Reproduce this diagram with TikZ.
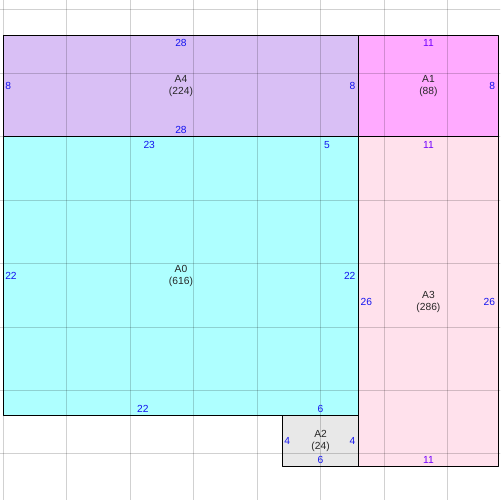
\documentclass[tikz,border=0pt]{standalone}
\usepackage{fontspec}
\setmainfont{Liberation Sans}
\usepackage{tikz}
\definecolor{fillfour}{RGB}{217,191,245}
\definecolor{fillone}{RGB}{255,170,255}
\definecolor{fillzero}{RGB}{174,255,255}
\definecolor{fillthree}{RGB}{255,225,236}
\definecolor{filltwo}{RGB}{232,232,232}
\definecolor{lenblue}{RGB}{20,20,240}
\definecolor{lenviolet}{RGB}{115,0,255}
\tikzset{
  room/.style={draw=black,line width=1.1pt},
  gridline/.style={black,opacity=0.18,line width=0.9pt},
  roomname/.style={align=center,inner sep=0pt,text=black!85,font=\fontsize{11.5}{13.4}\selectfont},
  lenlabel/.style={text=lenblue,inner sep=0pt,font=\fontsize{11.5}{13.4}\selectfont},
  lbltop/.style={lenlabel,anchor=north,inner ysep=4.8pt},
  lblbot/.style={lenlabel,anchor=south,inner ysep=3pt},
  lblleft/.style={lenlabel,anchor=west,inner xsep=2pt},
  lblright/.style={lenlabel,anchor=east,inner xsep=3.4pt}
}
\begin{document}
\begin{tikzpicture}[line cap=round,line join=round,x=0.5cm,y=-0.5cm]
\useasboundingbox (-0.26,-2.76) rectangle (39.14,36.64);
% room fills
\fill [fillfour] (0,0) rectangle (28,8);
\fill [fillone] (28,0) rectangle (39,8);
\fill [fillzero] (0,8) rectangle (28,30);
\fill [fillthree] (28,8) rectangle (39,34);
\fill [filltwo] (22,30) rectangle (28,34);
% grid, every 5 units
\foreach \gx in {0,5,...,35}
  \draw [gridline] (\gx,-2.76) -- (\gx,36.64);
\foreach \gy in {-2,3,...,33}
  \draw [gridline] (-0.26,\gy) -- (39.14,\gy);
% room borders
\draw [room] (0,0) rectangle (28,8);
\draw [room] (28,0) rectangle (39,8);
\draw [room] (0,8) rectangle (28,30);
\draw [room] (28,8) rectangle (39,34);
\draw [room] (22,30) rectangle (28,34);
% A4
\node [roomname] (a4) at (14,4) {A4\\(224)};
\node [lbltop] (a4top) at (14,0) {28};
\node [lblbot] (a4bot) at (14,8) {28};
\node [lblleft] (a4left) at (0,4) {8};
\node [lblright] (a4right) at (28,4) {8};
% A1
\node [roomname] (a1) at (33.5,4) {A1\\(88)};
\node [lbltop,text=lenviolet] (a1top) at (33.5,0) {11};
\node [lblright] (a1right) at (39,4) {8};
% A0
\node [roomname] (a0) at (14,19) {A0\\(616)};
\node [lbltop] (a0topa) at (11.5,8) {23};
\node [lbltop] (a0topb) at (25.5,8) {5};
\node [lblleft] (a0left) at (0,19) {22};
\node [lblright] (a0right) at (28,19) {22};
\node [lblbot] (a0bota) at (11,30) {22};
\node [lblbot] (a0botb) at (25,30) {6};
% A3
\node [roomname] (a3) at (33.5,21) {A3\\(286)};
\node [lbltop,text=lenviolet] (a3top) at (33.5,8) {11};
\node [lblleft] (a3left) at (28,21) {26};
\node [lblright] (a3right) at (39,21) {26};
\node [lblbot,text=lenviolet] (a3bot) at (33.5,34) {11};
% A2
\node [roomname] (a2) at (25,32) {A2\\(24)};
\node [lblleft] (a2left) at (22,32) {4};
\node [lblright] (a2right) at (28,32) {4};
\node [lblbot] (a2bot) at (25,34) {6};
\end{tikzpicture}
\end{document}
